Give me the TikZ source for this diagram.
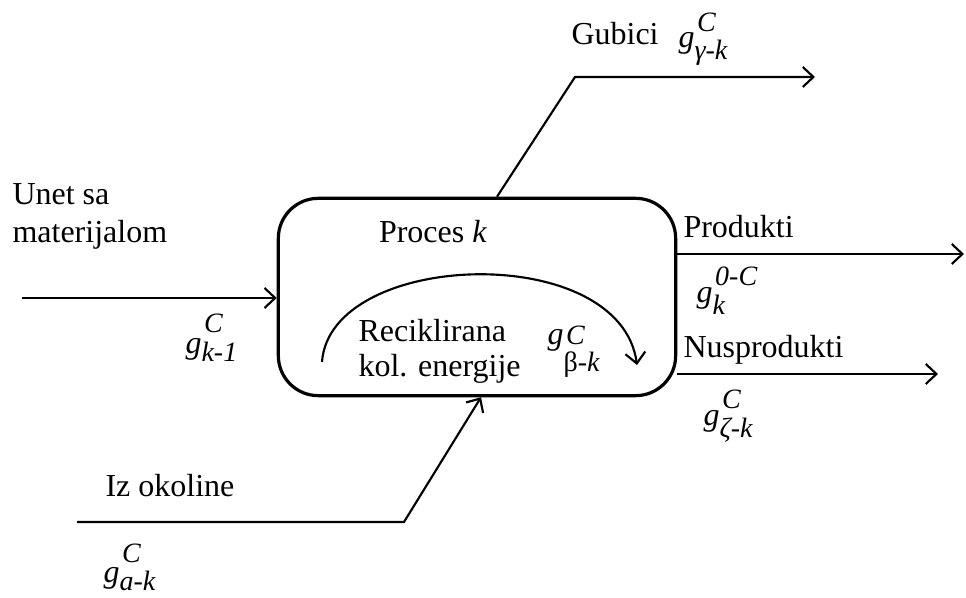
\documentclass[tikz,border=0pt]{standalone}
\usepackage{fontspec}
\setmainfont{Liberation Serif}
\usetikzlibrary{arrows.meta,positioning}

% g with raised superscript (#1) and lowered subscript (#2)
\newcommand{\gsym}[4]{\textit{g}\rlap{\hspace{1pt}\raisebox{#1}{\fontsize{10.5}{12}\selectfont #3}}\raisebox{-#2}{\fontsize{10.5}{12}\selectfont #4}}

\begin{document}
\begin{tikzpicture}[x=0.375pt, y=-0.375pt, >={Straight Barb[length=4pt,width=7.5pt]},
  every node/.style={inner sep=0pt, font=\fontsize{12}{14}\selectfont}]

\useasboundingbox (0,0) rectangle (966,598);

\node [draw, line width=1.2pt, rounded corners=15pt, minimum width=149pt, minimum height=74pt] (proc) at (477,297) {};

\coordinate (inA) at (22,298);
\coordinate (gubB) at (575,77);
\coordinate (gubC) at (815,77);
\coordinate (prodE) at (964,254);
\coordinate (nusE) at (938,374);
\coordinate (okA) at (77,522);
\coordinate (okB) at (404,522);
\coordinate (recA) at (322,362);
\coordinate (recB) at (637,365);

\begin{scope}[line width=0.8pt,->]
\draw (inA) -- (inA -| proc.west); %ulaz
\draw ([xshift=7.5pt]proc.north) -- (gubB) -- (gubC); %gubici
\draw (prodE -| proc.east) -- (prodE); %produkti
\draw (nusE -| proc.east) -- (nusE); %nusprodukti
\draw (okA) -- (okB) -- ([xshift=1.5pt]proc.south); %okolina
\draw (recA) .. controls (330,250) and (620,240) .. (recB); %reciklaza
\end{scope}

\node [anchor=base west] (unet1) at (12,205) {Unet sa};
\node [anchor=base west] (unet2) at (12,243) {materijalom};
\node [anchor=base] (proces) at (433,243) {Proces \textit{k}};
\node [anchor=base west] (rec1) at (358,342) {Reciklirana};
\node [anchor=base west] (rec2) at (358,377) {kol. energije};
\node [anchor=base west] (gubici) at (571,45) {Gubici};
\node [anchor=base west] (prod) at (683,238) {Produkti};
\node [anchor=base west] (nus) at (683,358) {Nusprodukti};
\node [anchor=base west] (okol) at (105,497) {Iz okoline};

\node [anchor=base west] (gin) at (185,354) {\gsym{8.2pt}{3pt}{\textit{C}}{\textit{k-1}}};
\node [anchor=base west] (ggub) at (678,48) {\gsym{6pt}{4.5pt}{\textit{C}}{\textit{γ-k}}};
\node [anchor=base west] (gprod) at (696,303) {\gsym{6.7pt}{4.5pt}{\textit{0-C}}{\textit{k}}};
\node [anchor=base west] (gnus) at (703,426) {\gsym{6.7pt}{4.5pt}{\textit{C}}{\textit{ζ-k}}};
\node [anchor=base west] (grec) at (547,345) {\gsym{0pt}{10pt}{\textit{C}}{β\textit{-k}}};
\node [anchor=base west] (gok) at (103,583) {\gsym{7.5pt}{3pt}{\textit{C}}{\textit{a-k}}};

\end{tikzpicture}
\end{document}
